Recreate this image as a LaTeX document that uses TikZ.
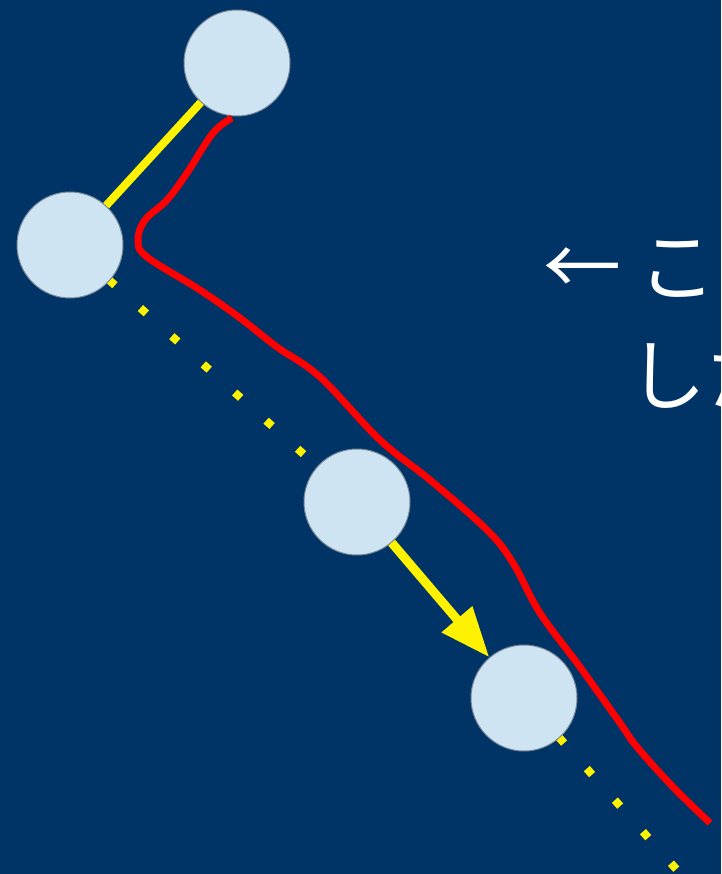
\documentclass[tikz,border=0pt]{standalone}
\usepackage{fontspec}
\newfontfamily\jp{Noto Sans CJK JP}
\usetikzlibrary{arrows.meta}
\definecolor{bg}{RGB}{0,51,102}
\definecolor{ball}{RGB}{207,228,242}
\definecolor{ballline}{RGB}{120,135,150}
\tikzset{
  ball/.style={circle, minimum size=106pt, inner sep=0pt, fill=ball, draw=ballline, line width=1pt},
  dotline/.style={yellow, line width=8pt, line cap=butt, dash pattern=on 8pt off 34.2pt, dash phase=32.1pt},
  bond/.style={yellow, line width=8pt},
  move/.style={yellow, line width=9pt, -{Triangle[length=50pt, width=38pt]}},
  path/.style={red, line width=7pt},
  label/.style={text=white, font=\jp\fontsize{78pt}{108pt}\selectfont, inner sep=0pt, anchor=base west}
}
\begin{document}
\begin{tikzpicture}[x=1pt, y=-1pt]
\path[use as bounding box, fill=bg] (0,0) rectangle (721,874);
\clip (0,0) rectangle (721,874);
\coordinate (A0) at (237,63);
\coordinate (B0) at (70,245);
\coordinate (C0) at (357,502);
\coordinate (D0) at (524,698);
\coordinate (E) at (790,997);
\draw[dotline] (B0) -- (C0);
\draw[dotline] (D0) -- (E);
\node[ball] (A) at (A0) {};
\node[ball] (B) at (B0) {};
\node[ball] (C) at (C0) {};
\node[ball] (D) at (D0) {};
\draw[bond] (B) -- (A);
\draw[move] (C) -- (D);
\draw[path, line cap=butt] plot[smooth, tension=0.6] coordinates {
 (232,118) (213,133) (187,173) (167,200) (145,220) (138,240) (147,257)
 (200,290) (240,318) (277,347) (320,377) (380,440) (430,480) (487,530)
 (513,563) (540,613) (580,667) (620,723) (637,747) (673,787) (710,823)};
\node[label] (t1) at (543,295) {← こ};
\node[label] (t2) at (628,404) {した};
\end{tikzpicture}
\end{document}
